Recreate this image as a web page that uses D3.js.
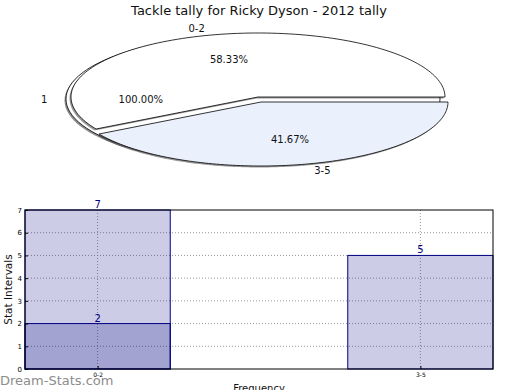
<!DOCTYPE html>
<html>
<head>
<meta charset="utf-8">
<script src="https://cdn.jsdelivr.net/npm/d3@7"></script>
<style>
  body { margin: 0; background: #fff; }
  svg { font-family: "DejaVu Sans", sans-serif; }
</style>
</head>
<body>
<svg id="chart" width="520" height="390"></svg>
<script>
// data
var title = "Tackle tally for Ricky Dyson - 2012 tally";
var pieLabels = ["0-2", "3-5"];
var pieValues = [7, 5];
var pieColors = ["#ffffff", "#eaf1fd"];
var outerLabel = "1";
var outerValue = [1];

var barCats = ["0-2", "3-5"];
var barValues = [7, 5];
var barValues2 = [2, null];
var yTicks = [0, 1, 2, 3, 4, 5, 6, 7];

var svg = d3.select("#chart");

// title
svg.append("text")
  .attr("x", 259).attr("y", 15)
  .attr("text-anchor", "middle")
  .attr("font-size", 13)
  .attr("fill", "#111")
  .text(title);

//////////// PIE ////////////
var rx = 187, ry = 64;
var pieG = svg.append("g");

// elliptical wedge, angles in degrees ccw from +x (matplotlib style)
function wedgePath(cx, cy, a0, a1) {
  var p = d3.path();
  var full = (a1 - a0) >= 360;
  var n = 120;
  if (!full) p.moveTo(cx, cy);
  for (var i = 0; i <= n; i++) {
    var a = (a0 + (a1 - a0) * i / n) * Math.PI / 180;
    var x = cx + rx * Math.cos(a), y = cy - ry * Math.sin(a);
    if (i == 0 && full) p.moveTo(x, y); else p.lineTo(x, y);
  }
  p.closePath();
  return p.toString();
}

var defs = svg.append("defs");
defs.append("filter").attr("id", "blur")
  .append("feGaussianBlur").attr("stdDeviation", 0.6);

// "1" pie underneath (single full slice)
var c1 = {x: 253, y: 99};
pieG.append("path")
  .attr("d", wedgePath(c1.x - 1.5, c1.y + 1.5, 0, 360))
  .attr("fill", "#444").attr("opacity", 0.6).attr("filter", "url(#blur)");
pieG.append("path")
  .attr("d", wedgePath(c1.x, c1.y, 0, 360))
  .attr("fill", "#fff").attr("stroke", "#000").attr("stroke-width", 0.8);

var total = d3.sum(pieValues);
var pie = d3.pie().sort(null).value(function(d) { return d; })(pieValues);
var centers = [{x: 258, y: 97}, {x: 261, y: 102}];

pie.forEach(function(s, i) {
  var a0 = s.startAngle * 180 / Math.PI, a1 = s.endAngle * 180 / Math.PI;
  pieG.append("path")
    .attr("d", wedgePath(centers[i].x - 1.5, centers[i].y + 1.5, a0, a1))
    .attr("fill", "#444").attr("opacity", 0.55).attr("filter", "url(#blur)");
});
pie.forEach(function(s, i) {
  var a0 = s.startAngle * 180 / Math.PI, a1 = s.endAngle * 180 / Math.PI;
  var c = centers[i];
  pieG.append("path")
    .attr("d", wedgePath(c.x, c.y, a0, a1))
    .attr("fill", pieColors[i]).attr("stroke", "#000").attr("stroke-width", 0.8);
  var mid = ((a0 + a1) / 2) * Math.PI / 180;
  var cos = Math.cos(mid), sin = Math.sin(mid);
  pieG.append("text")
    .attr("x", c.x + 1.1 * rx * cos).attr("y", c.y - 1.1 * ry * sin)
    .attr("dy", "0.35em")
    .attr("text-anchor", cos < 0 ? "end" : "start")
    .attr("font-size", 10).attr("fill", "#111")
    .text(pieLabels[i]);
  pieG.append("text")
    .attr("x", c.x + 0.6 * rx * cos).attr("y", c.y - 0.6 * ry * sin)
    .attr("dy", "0.35em")
    .attr("text-anchor", "middle")
    .attr("font-size", 10).attr("fill", "#111")
    .text(d3.format(".2f")(s.value / total * 100) + "%");
});

// labels of the "1" pie
pieG.append("text")
  .attr("x", c1.x - 1.1 * rx).attr("y", c1.y).attr("dy", "0.35em")
  .attr("text-anchor", "end").attr("font-size", 10).attr("fill", "#111")
  .text(outerLabel);
pieG.append("text")
  .attr("x", c1.x - 0.6 * rx).attr("y", c1.y).attr("dy", "0.35em")
  .attr("text-anchor", "middle").attr("font-size", 10).attr("fill", "#111")
  .text(d3.format(".2f")(outerValue[0] * 100) + "%");

//////////// BARS ////////////
var margin = {left: 25, right: 27, top: 210, bottom: 21};
var w = 520 - margin.left - margin.right,
    h = 390 - margin.top - margin.bottom;
var barW = 0.45;
var x = d3.scaleLinear().domain([-barW / 2, barCats.length - 1 + barW / 2]).range([0, w]);
var y = d3.scaleLinear().domain([0, 7]).range([h, 0]);

var g = svg.append("g").attr("transform", "translate(" + margin.left + "," + margin.top + ")");

// grid
g.append("g").selectAll("line").data(yTicks.slice(1, -1)).enter().append("line")
  .attr("x1", 0).attr("x2", w)
  .attr("y1", function(d) { return y(d); }).attr("y2", function(d) { return y(d); })
  .attr("stroke", "#999").attr("stroke-width", 1).attr("stroke-dasharray", "1,2");
g.append("g").selectAll("line").data(barCats).enter().append("line")
  .attr("x1", function(d, i) { return x(i); }).attr("x2", function(d, i) { return x(i); })
  .attr("y1", 0).attr("y2", h)
  .attr("stroke", "#999").attr("stroke-width", 1).attr("stroke-dasharray", "1,2");

function drawBars(vals) {
  vals.forEach(function(d, i) {
    if (d == null) return;
    g.append("rect")
      .attr("x", x(i - barW / 2))
      .attr("y", y(d))
      .attr("width", x(barW) - x(0))
      .attr("height", h - y(d))
      .attr("fill", "#000080").attr("fill-opacity", 0.2)
      .attr("stroke", "#000080").attr("stroke-width", 1);
    g.append("text")
      .attr("x", x(i)).attr("y", y(d) - 2)
      .attr("text-anchor", "middle").attr("font-size", 10).attr("fill", "#000080")
      .text(d);
  });
}
drawBars(barValues);
drawBars(barValues2);

// frame
g.append("rect").attr("width", w).attr("height", h)
  .attr("fill", "none").attr("stroke", "#000").attr("stroke-width", 1);

// axes
var yAxis = d3.axisLeft(y).tickValues(yTicks).tickFormat(d3.format("d")).tickSize(-3).tickPadding(3);
g.append("g").call(yAxis)
  .call(function(s) { s.select(".domain").remove(); })
  .selectAll("text").attr("font-size", 7).attr("font-family", "DejaVu Sans");
var xAxis = d3.axisBottom(x).tickValues(d3.range(barCats.length))
  .tickFormat(function(d) { return barCats[d]; }).tickSize(-3).tickPadding(4);
g.append("g").attr("transform", "translate(0," + h + ")").call(xAxis)
  .call(function(s) { s.select(".domain").remove(); })
  .selectAll("text").attr("font-size", 6).attr("font-family", "DejaVu Sans");
g.selectAll(".tick line").attr("stroke", "#000");

svg.append("text")
  .attr("transform", "translate(12," + (margin.top + h / 2) + ") rotate(-90)")
  .attr("text-anchor", "middle").attr("font-size", 10.5).attr("fill", "#111")
  .text("Stat Intervals");
svg.append("text")
  .attr("x", margin.left + w / 2).attr("y", 392)
  .attr("text-anchor", "middle").attr("font-size", 10).attr("fill", "#111")
  .text("Frequency");

// watermark
svg.append("text")
  .attr("x", 0).attr("y", 385)
  .attr("font-size", 13).attr("fill", "#8c8c8c")
  .text("Dream-Stats.com");
</script>
</body>
</html>
